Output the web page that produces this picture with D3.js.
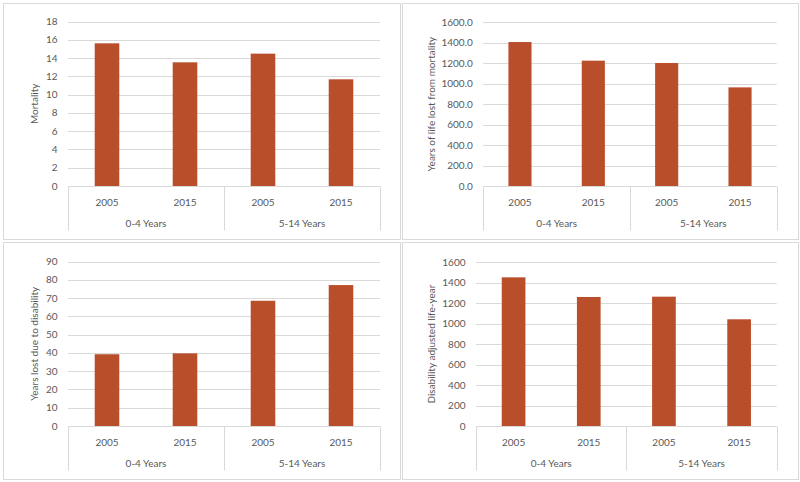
<!DOCTYPE html>
<html>
<head>
<meta charset="utf-8">
<script src="https://cdn.jsdelivr.net/npm/d3@7"></script>
<style>
html,body{margin:0;padding:0;background:#fff;}
svg{display:block;font-family:Lato,"Open Sans",sans-serif;}
</style>
</head>
<body>
<svg id="chart" width="800" height="482"></svg>
<script>
const groups = ["0-4 Years", "5-14 Years"];
const years = ["2005", "2015", "2005", "2015"];
const mortality = [15.63, 13.55, 14.5, 11.69];
const yllMortality = [1407, 1225, 1202, 964];
const yldDisability = [39.3, 39.8, 68.6, 77.2];
const daly = [1453, 1261, 1264, 1043];
const mortalityTicks = [0, 2, 4, 6, 8, 10, 12, 14, 16, 18];
const yllTicks = [0, 200, 400, 600, 800, 1000, 1200, 1400, 1600];
const yldTicks = [0, 10, 20, 30, 40, 50, 60, 70, 80, 90];
const dalyTicks = [0, 200, 400, 600, 800, 1000, 1200, 1400, 1600];
const axisTitles = ["Mortality", "Years of life lost from mortality", "Years lost due to disability", "Disability adjusted life-year"];

const svg = d3.select("#chart");
const barColor = "#b94e2b";
const gridColor = "#d9d9d9";
const textColor = "#595959";

const panels = [
  {frame:[3,3,397,236], plot:{l:68,r:380,t:21.7,b:186}, values:mortality, ticks:mortalityTicks, fmt:d3.format("d"), title:axisTitles[0], titleX:34},
  {frame:[402,3,396,236], plot:{l:483.3,r:776.7,t:22.3,b:186}, values:yllMortality, ticks:yllTicks, fmt:d3.format(".1f"), title:axisTitles[1], titleX:431},
  {frame:[3,242,397,237], plot:{l:68,r:380,t:261.7,b:426}, values:yldDisability, ticks:yldTicks, fmt:d3.format("d"), title:axisTitles[2], titleX:34},
  {frame:[402,242,396,237], plot:{l:476,r:776.7,t:262.3,b:426}, values:daly, ticks:dalyTicks, fmt:d3.format("d"), title:axisTitles[3], titleX:431}
];

panels.forEach(p => {
  const g = svg.append("g");
  g.append("rect")
    .attr("x", p.frame[0] + 0.5).attr("y", p.frame[1] + 0.5)
    .attr("width", p.frame[2]).attr("height", p.frame[3])
    .attr("fill", "#fff").attr("stroke", gridColor).attr("stroke-width", 1);

  const idx = d3.range(p.values.length);
  const x = d3.scaleBand().domain(idx).range([p.plot.l, p.plot.r]).paddingInner(0.685).paddingOuter(0.3425);
  const y = d3.scaleLinear().domain([0, d3.max(p.ticks)]).range([p.plot.b, p.plot.t]);

  // gridlines
  g.selectAll("line.grid").data(p.ticks).join("line")
    .attr("class", "grid")
    .attr("x1", p.plot.l).attr("x2", p.plot.r)
    .attr("y1", d => Math.round(y(d)) + 0.5).attr("y2", d => Math.round(y(d)) + 0.5)
    .attr("stroke", gridColor).attr("stroke-width", 1);

  // y tick labels
  g.selectAll("text.ytick").data(p.ticks).join("text")
    .attr("class", "ytick")
    .attr("x", p.plot.l - 10.5)
    .attr("y", d => y(d))
    .attr("dy", "0.35em")
    .attr("text-anchor", "end")
    .attr("font-size", 10)
    .attr("fill", textColor)
    .text(d => p.fmt(d));

  // y title
  g.append("text")
    .attr("transform", `translate(${p.titleX},${(p.plot.t + p.plot.b) / 2}) rotate(-90)`)
    .attr("text-anchor", "middle")
    .attr("dy", "0.35em")
    .attr("font-size", 10)
    .attr("fill", textColor)
    .text(p.title);

  // bars
  g.selectAll("rect.bar").data(p.values).join("rect")
    .attr("class", "bar")
    .attr("x", (d, i) => x(i))
    .attr("width", x.bandwidth())
    .attr("y", d => y(d))
    .attr("height", d => y(0) - y(d))
    .attr("fill", barColor);

  // category axis (multi-level)
  const base = Math.round(y(0)) + 0.5;
  const axisDepth = 44;
  const sepX = [p.plot.l, (p.plot.l + p.plot.r) / 2, p.plot.r];
  g.selectAll("line.sep").data(sepX).join("line")
    .attr("class", "sep")
    .attr("x1", d => Math.round(d) + 0.5).attr("x2", d => Math.round(d) + 0.5)
    .attr("y1", base).attr("y2", base + axisDepth)
    .attr("stroke", gridColor).attr("stroke-width", 1);

  g.selectAll("text.year").data(years).join("text")
    .attr("class", "year")
    .attr("x", (d, i) => x(i) + x.bandwidth() / 2)
    .attr("y", base + 16)
    .attr("dy", "0.35em")
    .attr("text-anchor", "middle")
    .attr("font-size", 10)
    .attr("fill", textColor)
    .text(d => d);

  const gx = d3.scaleBand().domain(groups).range([p.plot.l, p.plot.r]);
  g.selectAll("text.group").data(groups).join("text")
    .attr("class", "group")
    .attr("x", d => gx(d) + gx.bandwidth() / 2)
    .attr("y", base + 37)
    .attr("dy", "0.35em")
    .attr("text-anchor", "middle")
    .attr("font-size", 10)
    .attr("fill", textColor)
    .text(d => d);
});
</script>
</body>
</html>
